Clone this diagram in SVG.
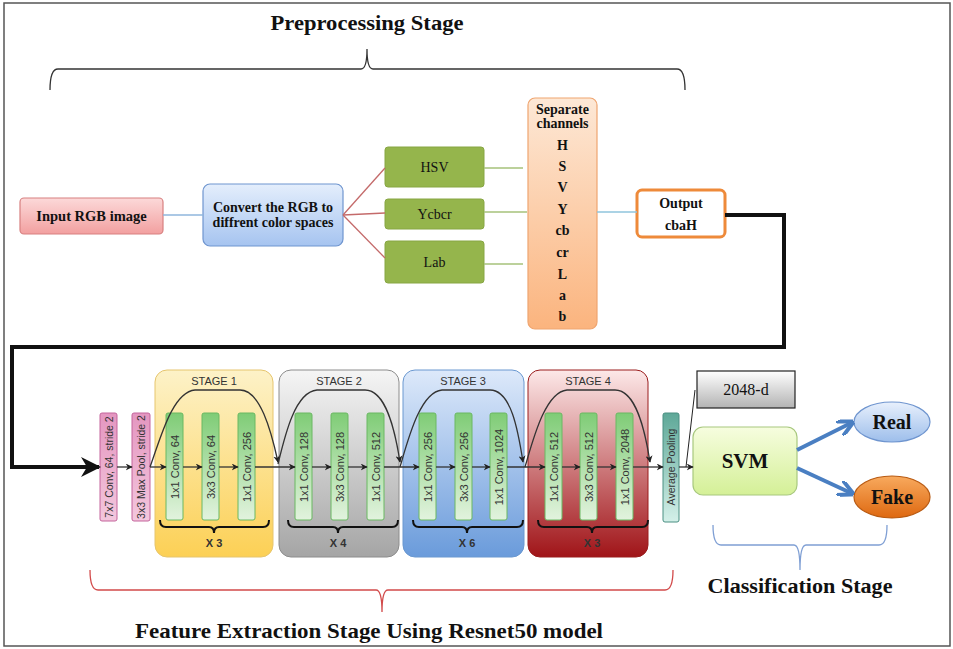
<svg xmlns="http://www.w3.org/2000/svg" width="953" height="649" viewBox="0 0 953 649">
<style>
.ser{font-family:"Liberation Serif","Times New Roman",serif;fill:#111}
.b{font-weight:bold}
.sans{font-family:"Liberation Sans",Arial,sans-serif;fill:#333}
.bar{fill:url(#gBar);stroke:#6ab862;stroke-width:1}
.flow{fill:none;stroke:#333;stroke-width:1.3;marker-end:url(#mSmall)}
.skip{fill:none;stroke:#333;stroke-width:1.3;marker-end:url(#mSmall)}
.brace{fill:none;stroke:#111;stroke-width:2}
</style>
<defs>
<linearGradient id="gPink" x1="0" y1="0" x2="0" y2="1"><stop offset="0" stop-color="#fcd9d9"/><stop offset="1" stop-color="#f2a0a0"/></linearGradient>
<linearGradient id="gBlue" x1="0" y1="0" x2="0" y2="1"><stop offset="0" stop-color="#e4eefc"/><stop offset="1" stop-color="#a6c4f0"/></linearGradient>
<linearGradient id="gOrange" x1="0" y1="0" x2="0" y2="1"><stop offset="0" stop-color="#fde8d6"/><stop offset="1" stop-color="#fbb47e"/></linearGradient>
<linearGradient id="gConv" x1="0" y1="0" x2="0" y2="1"><stop offset="0" stop-color="#e496c0"/><stop offset="1" stop-color="#f3c7dd"/></linearGradient>
<linearGradient id="gS1" x1="0" y1="0" x2="0" y2="1"><stop offset="0" stop-color="#fdf2c8"/><stop offset="1" stop-color="#fcd055"/></linearGradient>
<linearGradient id="gS2" x1="0" y1="0" x2="0" y2="1"><stop offset="0" stop-color="#f5f5f5"/><stop offset="1" stop-color="#a5a5a5"/></linearGradient>
<linearGradient id="gS3" x1="0" y1="0" x2="0" y2="1"><stop offset="0" stop-color="#dde9fa"/><stop offset="1" stop-color="#6a9bdb"/></linearGradient>
<linearGradient id="gS4" x1="0" y1="0" x2="0" y2="1"><stop offset="0" stop-color="#fde8e8"/><stop offset="1" stop-color="#a01418"/></linearGradient>
<linearGradient id="gBar" x1="0" y1="0" x2="0" y2="1"><stop offset="0" stop-color="#7fcc76"/><stop offset="1" stop-color="#e2f3de"/></linearGradient>
<linearGradient id="gAvg" x1="0" y1="0" x2="0" y2="1"><stop offset="0" stop-color="#5ea898"/><stop offset="1" stop-color="#d4f0e9"/></linearGradient>
<linearGradient id="gGray" x1="0" y1="0" x2="0" y2="1"><stop offset="0" stop-color="#ffffff"/><stop offset="1" stop-color="#b3b3b3"/></linearGradient>
<linearGradient id="gSvm" x1="0" y1="0" x2="0" y2="1"><stop offset="0" stop-color="#f6fddf"/><stop offset="1" stop-color="#d4f097"/></linearGradient>
<linearGradient id="gReal" x1="0" y1="0" x2="0" y2="1"><stop offset="0" stop-color="#e8f0fc"/><stop offset="1" stop-color="#9dbeeb"/></linearGradient>
<linearGradient id="gFake" x1="0" y1="0" x2="0" y2="1"><stop offset="0" stop-color="#f8aa5e"/><stop offset="1" stop-color="#de6810"/></linearGradient>
<marker id="mSmall" viewBox="0 0 10 10" refX="9" refY="5" markerWidth="7" markerHeight="7" markerUnits="userSpaceOnUse" orient="auto"><path d="M0,0 L10,5 L0,10 L3,5 z" fill="#222"/></marker>
<marker id="mBig" viewBox="0 0 10 10" refX="9" refY="5" markerWidth="5" markerHeight="5" orient="auto"><path d="M0,0 L10,5 L0,10 L3,5 z" fill="#111"/></marker>
<marker id="mBlue" viewBox="0 0 10 10" refX="8" refY="5" markerWidth="4" markerHeight="4" orient="auto"><path d="M0,0 L10,5 L0,10" fill="none" stroke="#4a7fc2" stroke-width="2.5"/></marker>
</defs>
<rect x="0" y="0" width="953" height="649" fill="#ffffff"/>
<rect x="4" y="3" width="946" height="643" fill="none" stroke="#555" stroke-width="1.5"/>

<!-- titles and braces -->
<text class="ser b" x="367" y="30" font-size="20" text-anchor="middle" textLength="193" lengthAdjust="spacingAndGlyphs">Preprocessing Stage</text>
<path d="M50,90 Q50,69 58,69 L361,69 Q367,69 367,49 Q367,69 373,69 L677,69 Q685,69 685,90" fill="none" stroke="#333" stroke-width="1.3"/>
<path d="M90,570 Q90,590 98,590 L376,590 Q382,590 382,612 Q382,590 388,590 L665,590 Q673,590 673,570" fill="none" stroke="#d24a4a" stroke-width="1.3"/>
<text class="ser b" x="369" y="638" font-size="21" text-anchor="middle" textLength="468" lengthAdjust="spacingAndGlyphs">Feature Extraction Stage Using Resnet50 model</text>
<path d="M713,525 Q713,545 721,545 L794,545 Q800,545 800,570 Q800,545 806,545 L879,545 Q887,545 887,525" fill="none" stroke="#7f9fd4" stroke-width="1.3"/>
<text class="ser b" x="800" y="593" font-size="20" text-anchor="middle" textLength="185" lengthAdjust="spacingAndGlyphs">Classification Stage</text>

<!-- preprocessing nodes -->
<g id="input">
<rect x="20" y="198" width="143" height="36" rx="4" fill="url(#gPink)" stroke="#d78080" stroke-width="1.2"/>
<text class="ser b" x="91.5" y="221" font-size="14.5" text-anchor="middle">Input RGB image</text>
</g>
<g id="convert">
<rect x="203" y="184" width="140" height="62" rx="7" fill="url(#gBlue)" stroke="#6f95cf" stroke-width="1.2"/>
<text class="ser b" x="273" y="212" font-size="14" text-anchor="middle">Convert the RGB to</text>
<text class="ser b" x="273" y="227" font-size="14" text-anchor="middle">diffrent color spaces</text>
</g>
<g id="hsv">
<rect x="385" y="147" width="99" height="40" rx="3" fill="#95b54c" stroke="#87a643"/>
<text class="ser" x="434.5" y="172" font-size="14" text-anchor="middle">HSV</text>
</g>
<g id="ycbcr">
<rect x="385" y="199" width="99" height="30" rx="3" fill="#95b54c" stroke="#87a643"/>
<text class="ser" x="434.5" y="219" font-size="14" text-anchor="middle">Ycbcr</text>
</g>
<g id="lab">
<rect x="385" y="241" width="99" height="42" rx="3" fill="#95b54c" stroke="#87a643"/>
<text class="ser" x="434.5" y="267" font-size="14" text-anchor="middle">Lab</text>
</g>
<g id="separate">
<rect x="528" y="98" width="69" height="231" rx="7" fill="url(#gOrange)" stroke="#efa570" stroke-width="1.2"/>
<g class="ser b" font-size="14" text-anchor="middle">
<text x="562.5" y="114">Separate</text>
<text x="562.5" y="128">channels</text>
<text x="562.5" y="150">H</text>
<text x="562.5" y="171">S</text>
<text x="562.5" y="192">V</text>
<text x="562.5" y="214">Y</text>
<text x="562.5" y="235">cb</text>
<text x="562.5" y="257">cr</text>
<text x="562.5" y="279">L</text>
<text x="562.5" y="300">a</text>
<text x="562.5" y="321">b</text>
</g>
</g>
<g id="output">
<rect x="637" y="190" width="88" height="47" rx="5" fill="#ffffff" stroke="#ee8a3a" stroke-width="3"/>
<text class="ser b" x="681" y="208" font-size="14" text-anchor="middle">Output</text>
<text class="ser b" x="681" y="230" font-size="14" text-anchor="middle">cbaH</text>
</g>

<!-- ResNet -->
<g id="conv7">
<rect x="100" y="413" width="17" height="108" rx="2" fill="url(#gConv)" stroke="#c4659c"/>
<text class="sans" transform="translate(108.5,467) rotate(-90)" font-size="10.5" text-anchor="middle" dominant-baseline="central">7x7 Conv, 64, stride 2</text>
</g>
<g id="maxpool">
<rect x="132" y="413" width="18" height="108" rx="2" fill="url(#gConv)" stroke="#c4659c"/>
<text class="sans" transform="translate(141,467) rotate(-90)" font-size="10.5" text-anchor="middle" dominant-baseline="central">3x3 Max Pool, stride 2</text>
</g>

<g id="stage1">
<rect x="155" y="370" width="118" height="187" rx="12" fill="url(#gS1)" stroke="#e6c56e"/>
<text class="sans" x="214" y="385" font-size="11" text-anchor="middle">STAGE 1</text>
<rect class="bar" x="166" y="413" width="17" height="107" rx="2"/>
<rect class="bar" x="202" y="413" width="17" height="107" rx="2"/>
<rect class="bar" x="238" y="413" width="17" height="107" rx="2"/>
<text class="sans" transform="translate(174.5,467) rotate(-90)" font-size="11" text-anchor="middle" dominant-baseline="central">1x1 Conv, 64</text>
<text class="sans" transform="translate(210.5,467) rotate(-90)" font-size="11" text-anchor="middle" dominant-baseline="central">3x3 Conv, 64</text>
<text class="sans" transform="translate(246.5,467) rotate(-90)" font-size="11" text-anchor="middle" dominant-baseline="central">1x1 Conv, 256</text>
<path class="brace" d="M160,520 Q160,527 166,527 L209,527 Q214,527 214,533 Q214,527 219,527 L263,527 Q269,527 269,520"/>
<text class="sans b" x="214" y="547" font-size="11" text-anchor="middle">X 3</text>
</g>

<g id="stage2">
<rect x="279" y="370" width="120" height="187" rx="12" fill="url(#gS2)" stroke="#8c8c8c"/>
<text class="sans" x="339" y="385" font-size="11" text-anchor="middle">STAGE 2</text>
<rect class="bar" x="295" y="413" width="17" height="107" rx="2"/>
<rect class="bar" x="331" y="413" width="17" height="107" rx="2"/>
<rect class="bar" x="367" y="413" width="17" height="107" rx="2"/>
<text class="sans" transform="translate(303.5,467) rotate(-90)" font-size="11" text-anchor="middle" dominant-baseline="central">1x1 Conv, 128</text>
<text class="sans" transform="translate(339.5,467) rotate(-90)" font-size="11" text-anchor="middle" dominant-baseline="central">3x3 Conv, 128</text>
<text class="sans" transform="translate(375.5,467) rotate(-90)" font-size="11" text-anchor="middle" dominant-baseline="central">1x1 Conv, 512</text>
<path class="brace" d="M288,520 Q288,527 294,527 L333,527 Q338,527 338,533 Q338,527 343,527 L392,527 Q398,527 398,520"/>
<text class="sans b" x="338" y="547" font-size="11" text-anchor="middle">X 4</text>
</g>

<g id="stage3">
<rect x="403" y="370" width="121" height="187" rx="12" fill="url(#gS3)" stroke="#6a98d0"/>
<text class="sans" x="463" y="385" font-size="11" text-anchor="middle">STAGE 3</text>
<rect class="bar" x="419" y="413" width="17" height="107" rx="2"/>
<rect class="bar" x="455" y="413" width="17" height="107" rx="2"/>
<rect class="bar" x="490" y="413" width="17" height="107" rx="2"/>
<text class="sans" transform="translate(427.5,467) rotate(-90)" font-size="11" text-anchor="middle" dominant-baseline="central">1x1 Conv, 256</text>
<text class="sans" transform="translate(463.5,467) rotate(-90)" font-size="11" text-anchor="middle" dominant-baseline="central">3x3 Conv, 256</text>
<text class="sans" transform="translate(498.5,467) rotate(-90)" font-size="11" text-anchor="middle" dominant-baseline="central">1x1 Conv, 1024</text>
<path class="brace" d="M413,520 Q413,527 419,527 L462,527 Q467,527 467,533 Q467,527 472,527 L517,527 Q523,527 523,520"/>
<text class="sans b" x="467" y="547" font-size="11" text-anchor="middle">X 6</text>
</g>

<g id="stage4">
<rect x="528" y="370" width="120" height="187" rx="12" fill="url(#gS4)" stroke="#9a1c1c"/>
<text class="sans" x="588" y="385" font-size="11" text-anchor="middle">STAGE 4</text>
<rect class="bar" x="545" y="413" width="17" height="107" rx="2"/>
<rect class="bar" x="580" y="413" width="17" height="107" rx="2"/>
<rect class="bar" x="616" y="413" width="17" height="107" rx="2"/>
<text class="sans" transform="translate(553.5,467) rotate(-90)" font-size="11" text-anchor="middle" dominant-baseline="central">1x1 Conv, 512</text>
<text class="sans" transform="translate(588.5,467) rotate(-90)" font-size="11" text-anchor="middle" dominant-baseline="central">3x3 Conv, 512</text>
<text class="sans" transform="translate(624.5,467) rotate(-90)" font-size="11" text-anchor="middle" dominant-baseline="central">1x1 Conv, 2048</text>
<path class="brace" d="M538,520 Q538,527 544,527 L587,527 Q592,527 592,533 Q592,527 597,527 L642,527 Q648,527 648,520"/>
<text class="sans b" x="592" y="547" font-size="11" text-anchor="middle">X 3</text>
</g>

<g id="avgpool">
<rect x="663" y="413" width="16" height="109" rx="2" fill="url(#gAvg)" stroke="#4a8f82"/>
<text class="sans" transform="translate(671,467) rotate(-90)" font-size="10.5" text-anchor="middle" dominant-baseline="central">Average Pooling</text>
</g>

<!-- classification -->
<g id="feat2048">
<rect x="697" y="371" width="98" height="37" fill="url(#gGray)" stroke="#222" stroke-width="1.2"/>
<text class="ser" x="746" y="395" font-size="16" text-anchor="middle">2048-d</text>
</g>
<g id="svm">
<rect x="693" y="427" width="104" height="68" rx="10" fill="url(#gSvm)" stroke="#a8c87e" stroke-width="1.2"/>
<text class="ser b" x="745" y="468" font-size="21" text-anchor="middle">SVM</text>
</g>
<g id="real">
<ellipse cx="892" cy="422" rx="38" ry="20" fill="url(#gReal)" stroke="#6f95cf" stroke-width="1.2"/>
<text class="ser b" x="892" y="429" font-size="20" text-anchor="middle">Real</text>
</g>
<g id="fake">
<ellipse cx="892" cy="497" rx="38" ry="21" fill="url(#gFake)" stroke="#b85a12" stroke-width="1.2"/>
<text class="ser b" x="892" y="504" font-size="20" text-anchor="middle">Fake</text>
</g>

<!-- connectors -->
<g id="connectors">
<line x1="163" y1="215" x2="203" y2="215" stroke="#8fb6dc" stroke-width="1.5"/>
<line x1="343" y1="215" x2="385" y2="168" stroke="#c46a6a" stroke-width="1.3"/>
<line x1="343" y1="215" x2="385" y2="213" stroke="#c46a6a" stroke-width="1.3"/>
<line x1="343" y1="215" x2="385" y2="258" stroke="#c46a6a" stroke-width="1.3"/>
<line x1="484" y1="168" x2="523" y2="168" stroke="#a6c27a" stroke-width="1.3"/>
<line x1="484" y1="212" x2="527" y2="212" stroke="#a6c27a" stroke-width="1.3"/>
<line x1="484" y1="264" x2="523" y2="264" stroke="#a6c27a" stroke-width="1.3"/>
<line x1="597" y1="212" x2="637" y2="212" stroke="#8fc4dc" stroke-width="1.5"/>
<path d="M725,215 H784 V347 H12 V467 H99" fill="none" stroke="#111" stroke-width="4" marker-end="url(#mBig)"/>
<path class="flow" d="M117,467 H132"/>
<path class="flow" d="M150,467 H166"/>
<path class="flow" d="M183,467 H202"/>
<path class="flow" d="M219,467 H238"/>
<path class="flow" d="M255,467 H295"/>
<path class="flow" d="M312,467 H331"/>
<path class="flow" d="M348,467 H367"/>
<path class="flow" d="M384,467 H419"/>
<path class="flow" d="M436,467 H455"/>
<path class="flow" d="M472,467 H490"/>
<path class="flow" d="M507,467 H545"/>
<path class="flow" d="M562,467 H580"/>
<path class="flow" d="M597,467 H616"/>
<path class="flow" d="M633,467 H663"/>
<path class="flow" d="M679,467 H693"/>
<path class="skip" d="M150,467 C160,440 172,392 195,390 L240,390 C260,390 271,430 278,462"/>
<path class="skip" d="M278,464 C285,435 295,392 317,390 L365,390 C386,390 395,430 400,462"/>
<path class="skip" d="M400,467 C408,440 420,392 442,390 L490,390 C511,390 518,430 523,462"/>
<path class="skip" d="M525,467 C533,440 545,392 567,390 L615,390 C636,390 645,430 650,462"/>
<line x1="695" y1="390" x2="686" y2="467" stroke="#222" stroke-width="1"/>
<path d="M797,450 L851,423" fill="none" stroke="#4a7fc2" stroke-width="4" marker-end="url(#mBlue)"/>
<path d="M797,468 L851,493" fill="none" stroke="#4a7fc2" stroke-width="4" marker-end="url(#mBlue)"/>
</g>
</svg>
